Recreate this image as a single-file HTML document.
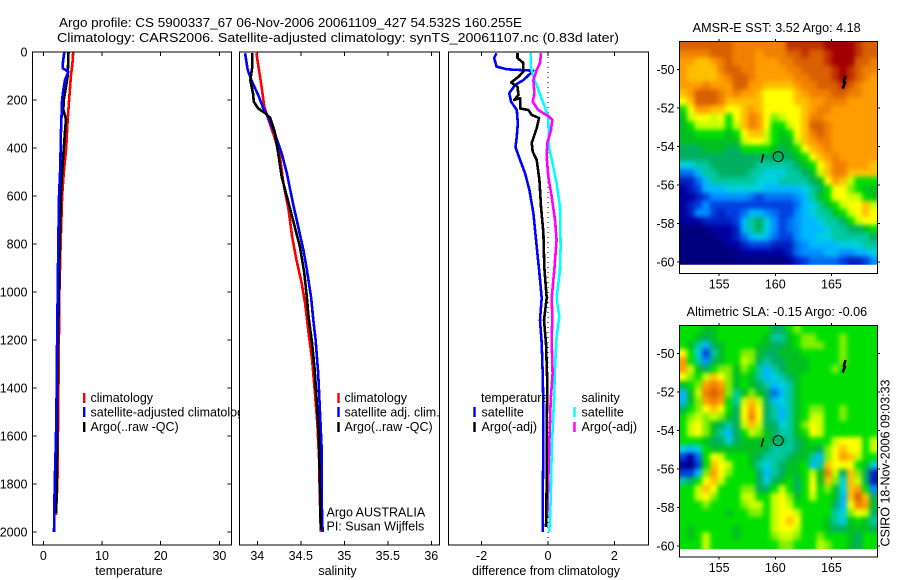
<!DOCTYPE html>
<html lang="en">
<head>
<meta charset="utf-8">
<title>Argo profile CS 5900337_67</title>
<style>
html,body{margin:0;padding:0;background:#fff;width:900px;height:580px;overflow:hidden}
svg{display:block}
text{font-family:"Liberation Sans",sans-serif;font-size:12.5px;fill:#000}
</style>
</head>
<body>
<svg id="chart" xmlns="http://www.w3.org/2000/svg" width="900" height="580" viewBox="0 0 900 580">
  <defs>
    <filter id="mapBlur" x="-5%" y="-5%" width="110%" height="110%" color-interpolation-filters="sRGB">
      <feGaussianBlur stdDeviation="2.4"/>
    </filter>
    <clipPath id="clipSst"><rect x="679.3" y="41.7" width="198" height="223"/></clipPath>
    <clipPath id="clipSla"><rect x="679.3" y="325.3" width="198" height="223.7"/></clipPath>
  </defs>
  <rect x="0" y="0" width="900" height="580" fill="#fff"/>
  <text x="59" y="27" textLength="463" lengthAdjust="spacingAndGlyphs" style="font-size:13.3px">Argo profile: CS 5900337_67 06-Nov-2006 20061109_427 54.532S 160.255E</text>
  <text x="57" y="42" textLength="562" lengthAdjust="spacingAndGlyphs" style="font-size:13.3px">Climatology: CARS2006. Satellite-adjusted climatology: synTS_20061107.nc (0.83d later)</text>

  <g id="p1"></g>
  <g id="p1legend">
    <rect x="83" y="393" width="2.4" height="10" fill="#f00"/>
    <rect x="83" y="407" width="2.4" height="10" fill="#00f"/>
    <rect x="83" y="422" width="2.4" height="10" fill="#000"/>
    <text x="90.5" y="402">climatology</text>
    <text x="90.5" y="416.5">satellite-adjusted climatology</text>
    <text x="90.5" y="431">Argo(..raw -QC)</text>
  </g>

  <g id="p2"></g>
  <g id="p2legend">
    <rect x="337.3" y="393" width="2.4" height="10" fill="#f00"/>
    <rect x="337.3" y="407" width="2.4" height="10" fill="#00f"/>
    <rect x="337.3" y="422" width="2.4" height="10" fill="#000"/>
    <text x="344.5" y="402">climatology</text>
    <text x="344.5" y="416.5">satellite adj. clim.</text>
    <text x="344.5" y="431">Argo(..raw -QC)</text>
    <text x="326.5" y="516.5">Argo AUSTRALIA</text>
    <text x="326.5" y="530.5">PI: Susan Wijffels</text>
  </g>

  <g id="p3"></g>
  <g id="p3legend">
    <text x="481" y="402">temperature</text>
    <rect x="473.3" y="407" width="2.4" height="10" fill="#00f"/>
    <rect x="473.3" y="422" width="2.4" height="10" fill="#000"/>
    <text x="481.5" y="416.5">satellite</text>
    <text x="481.5" y="431">Argo(-adj)</text>
    <text x="581.5" y="402">salinity</text>
    <rect x="573.3" y="407" width="2.4" height="10" fill="#0ff"/>
    <rect x="573.3" y="422" width="2.4" height="10" fill="#f0f"/>
    <text x="581.5" y="416.5">satellite</text>
    <text x="581.5" y="431">Argo(-adj)</text>
  </g>

  <text x="129" y="575" text-anchor="middle">temperature</text>
  <text x="337.5" y="575" text-anchor="middle">salinity</text>
  <text x="546" y="575" text-anchor="middle" textLength="148" lengthAdjust="spacingAndGlyphs">difference from climatology</text>

  <g id="m1"></g>
  <g id="m2"></g>
  <text x="692.7" y="32" textLength="168" lengthAdjust="spacingAndGlyphs">AMSR-E SST: 3.52 Argo: 4.18</text>
  <text x="686.7" y="316" textLength="180.5" lengthAdjust="spacingAndGlyphs">Altimetric SLA: -0.15 Argo: -0.06</text>
  <text transform="translate(889.5 546.5) rotate(-90)" textLength="167" lengthAdjust="spacingAndGlyphs">CSIRO 18-Nov-2006 09:03:33</text>
</svg>

<script>
// ---- profile data ----
const depthTicks = [0,200,400,600,800,1000,1200,1400,1600,1800,2000];
const tempTicks = [0,10,20,30];
const salTicks = [34,34.5,35,35.5,36];
const diffTicks = [-2,0,2];

const tempClimDepth = [0,50,100,200,300,400,500,600,800,1000,1200,1450,1800,1930];
const tempClimValue = [5.1,4.95,4.7,4.4,4.1,3.9,3.5,3.2,2.95,2.75,2.65,2.55,2.4,2.15];
const tempSatDepth = [0,40,68,82,117,158,200,340,478,603,800,1000,1200,1400,1600,1800,2000];
const tempSatValue = [3.6,3.35,3.3,4.27,3.7,3.4,3.2,3.0,2.9,2.67,2.55,2.45,2.35,2.28,2.17,1.95,1.83];
const tempArgoDepth = [0,100,200,240,280,300,400,500,600,800,1000,1200,1400,1800,1920];
const tempArgoValue = [4.3,4.15,3.5,3.4,3.87,3.8,3.5,3.2,3.0,2.8,2.65,2.5,2.4,2.3,2.2];

const salClimDepth = [5,75,145,228,283,358,436,547,658,769,867,964,1047,1172,1283,1408,1546,1700,1867,1999];
const salClimValue = [33.99,34.02,34.05,34.08,34.13,34.2,34.26,34.3,34.36,34.4,34.45,34.51,34.55,34.59,34.63,34.66,34.69,34.71,34.72,34.73];
const salSatDepth = [5,75,124,179,235,275,338,422,506,631,728,825,908,1025,1104,1200,1339,1492,1658,1867,1999];
const salSatValue = [33.86,33.89,33.94,34.01,34.07,34.13,34.2,34.28,34.34,34.41,34.47,34.53,34.57,34.62,34.64,34.67,34.7,34.72,34.74,34.74,34.75];
const salArgoDepth = [5,67,117,172,207,235,255,275,332,422,520,603,700,811,921,1025,1104,1214,1325,1492,1631,1811,1992];
const salArgoValue = [33.94,33.94,33.92,33.95,33.96,34.01,34.09,34.15,34.2,34.24,34.28,34.34,34.41,34.49,34.54,34.57,34.59,34.63,34.66,34.69,34.71,34.72,34.73];

const diffTempSatDepth = [5,25,61,72,78,117,137,172,207,242,297,353,397,450,506,575,672,811,921,1025,1117,1214,1339,1492,1631,1867,1999];
const diffTempSatValue = [-1.55,-1.62,-1.55,-1.24,-0.44,-0.74,-0.99,-1.17,-1.11,-0.94,-0.91,-0.94,-0.98,-0.84,-0.69,-0.56,-0.44,-0.34,-0.26,-0.19,-0.24,-0.19,-0.16,-0.14,-0.14,-0.16,-0.16];
const diffTempArgoDepth = [5,25,46,82,103,127,145,179,200,192,235,242,262,275,318,379,415,450,533,644,754,896,1025,1117,1214,1380,1589,1800,1979];
const diffTempArgoValue = [-0.92,-0.92,-0.74,-0.74,-0.89,-1.11,-0.92,-0.89,-1.02,-0.84,-0.84,-0.59,-0.49,-0.27,-0.34,-0.49,-0.46,-0.34,-0.26,-0.21,-0.14,-0.11,-0.04,-0.12,-0.06,-0.02,-0.04,-0.04,-0.06];
const diffSalSatDepth = [5,61,103,158,213,270,395,478,547,644,811,908,1025,1103,1186,1311,1450,1658,1867,1999];
const diffSalSatValue = [-0.52,-0.52,-0.44,-0.29,-0.14,0.01,0.03,0.16,0.26,0.36,0.38,0.36,0.26,0.34,0.26,0.21,0.18,0.11,0.08,0.04];
const diffSalArgoDepth = [5,46,75,117,172,207,242,267,283,325,379,436,520,603,700,783,908,1025,1103,1200,1339,1450,1631,1937];
const diffSalArgoValue = [-0.21,-0.24,-0.34,-0.44,-0.41,-0.46,-0.29,0.01,0.13,0.09,-0.02,-0.04,0.01,0.11,0.21,0.26,0.19,0.11,0.13,0.11,0.14,0.08,0.04,-0.02];

// ---- map data ----
const mapLonTicks = [155,160,165];
const mapLatTicks = [-50,-52,-54,-56,-58,-60];
const profileLon = [160.255];
const profileLat = [-54.532];
const nearTrackLon = [158.95,158.75];
const nearTrackLat = [-54.4,-54.85];
const farTrackLon = [166.25,166.1,166.2,166.0];
const farTrackLat = [-50.35,-50.65,-50.7,-51.0];

const levelColours = ['#00007f','#0000a0','#0020c0','#0040e0','#0070f0','#0090ff','#00b8ff','#00d0e0','#00c8a0','#00b060','#00c020','#00e000','#80f000','#c8ff00','#ffff00','#ffc000','#ff9c00','#f08000','#d86000','#c03000','#a00000'];

const sstLevels = [
[18,18,18,18,18,18,18,17,17,17,17,17,17,17,19,19,19,19,19,20,20,20,20,19,18,18],
[17,17,17,17,18,18,18,17,17,17,16,17,17,17,18,18,19,18,18,19,20,20,20,19,18,18],
[16,16,15,15,16,17,18,17,17,17,16,16,16,17,17,18,18,18,18,19,20,20,20,18,18,17],
[16,15,15,15,15,17,18,18,17,17,16,16,16,16,17,17,18,18,18,18,19,20,19,18,17,17],
[16,15,15,15,15,16,17,18,18,17,16,16,16,16,16,17,17,18,18,18,19,20,19,18,17,16],
[16,16,16,17,16,16,16,18,18,16,16,15,15,15,15,16,17,17,18,18,18,19,18,17,16,16],
[15,16,18,18,18,17,16,17,16,16,15,14,14,14,14,15,16,17,17,17,18,18,17,17,16,16],
[14,15,18,18,18,17,15,15,15,15,15,14,14,14,14,15,15,16,16,17,17,17,16,16,16,16],
[11,14,16,16,15,15,14,14,15,16,15,14,14,14,14,14,15,16,17,17,16,16,16,16,16,16],
[10,13,14,14,13,14,11,14,15,17,16,14,12,13,14,14,15,17,17,16,16,16,16,16,16,16],
[10,11,13,13,13,13,11,13,15,17,16,14,11,11,13,14,15,18,18,17,16,16,16,16,16,16],
[10,10,11,11,11,11,10,11,14,15,15,13,11,10,11,14,15,17,18,17,16,16,16,16,16,16],
[10,10,10,10,10,10,10,10,13,14,14,13,11,10,10,13,15,16,17,17,16,16,16,16,16,16],
[9,9,9,10,10,10,9,9,11,11,11,11,10,9,10,11,14,15,16,17,16,16,16,16,16,16],
[9,9,9,9,9,9,9,9,9,9,9,9,9,9,9,10,11,14,15,16,17,16,16,16,16,16],
[7,7,8,8,9,9,9,9,9,9,8,8,8,8,8,9,10,11,14,15,17,17,16,16,16,15],
[4,4,6,8,8,9,9,9,9,8,8,7,7,7,8,8,9,10,13,15,17,17,15,15,15,15],
[2,2,4,6,8,8,8,8,8,8,7,7,7,8,8,8,8,9,10,14,16,15,13,11,11,11],
[1,2,3,6,6,6,7,7,7,7,7,6,6,6,6,6,7,8,9,11,14,14,12,11,10,10],
[1,1,2,3,5,5,5,5,5,4,3,4,4,4,4,5,6,8,10,11,14,14,13,13,11,10],
[1,2,3,5,3,3,3,3,3,3,3,3,3,3,3,4,6,7,8,10,11,13,14,14,15,13],
[1,2,5,5,3,2,3,3,4,6,6,5,4,3,3,5,6,7,8,8,10,11,13,14,15,14],
[1,1,1,2,2,2,2,3,6,8,9,7,5,3,4,5,6,6,7,8,8,9,11,13,14,14],
[0,0,0,0,1,1,1,2,6,8,9,7,5,3,4,5,6,6,6,7,8,8,9,9,10,11],
[0,0,0,0,0,1,1,2,4,6,7,6,4,3,3,5,6,6,7,7,8,8,8,8,8,9],
[0,0,0,0,0,0,1,1,2,3,3,3,2,2,2,4,5,6,6,6,6,7,7,7,8,8],
[0,0,0,0,0,0,0,0,1,1,1,1,1,1,2,4,5,5,5,6,6,5,5,6,6,7],
[0,0,0,0,0,0,0,0,0,0,0,0,0,0,1,2,3,4,4,4,4,3,2,2,3,5]
];

const slaLevels = [
[11,11,11,10,10,11,11,11,11,11,11,11,9,9,11,12,11,11,11,11,11,11,11,11,11,11],
[11,11,10,9,10,11,11,11,11,11,11,10,8,8,10,11,12,12,11,11,11,12,11,11,11,11],
[11,10,8,6,9,10,11,11,11,11,10,10,9,9,10,11,12,12,12,11,11,12,11,11,11,11],
[14,11,7,3,8,10,11,11,12,12,10,9,9,10,10,10,11,11,11,11,11,12,11,11,11,11],
[16,11,8,5,9,10,11,11,13,12,9,8,9,9,10,10,10,11,11,11,11,12,11,11,11,11],
[16,13,10,9,11,12,12,10,12,11,8,6,8,9,10,10,10,11,11,11,12,11,11,11,11,11],
[14,12,11,13,15,14,12,10,11,10,8,6,7,8,9,10,11,11,11,11,11,11,11,11,11,11],
[10,11,12,16,17,16,12,10,11,10,9,8,6,7,8,10,11,11,11,11,11,11,11,11,11,11],
[6,10,13,17,18,17,12,8,10,12,10,9,4,6,8,10,11,11,11,11,11,11,11,11,11,11],
[6,10,12,16,17,16,11,8,13,15,13,9,6,7,8,10,11,11,11,11,11,11,11,11,11,11],
[9,11,12,14,15,14,11,9,14,16,14,9,8,6,8,10,11,12,12,11,11,12,11,11,11,11],
[11,12,13,12,13,12,10,9,14,17,14,9,8,6,8,10,11,13,13,11,11,12,11,11,11,11],
[11,13,14,12,10,9,8,9,13,15,13,9,9,7,8,10,12,14,13,11,11,11,11,11,11,11],
[11,13,14,12,10,8,6,9,11,13,12,10,9,8,8,10,11,14,13,11,11,11,11,11,11,11],
[11,11,11,10,9,9,7,9,10,10,10,10,9,9,8,9,10,11,11,11,13,14,14,14,11,13],
[7,6,7,11,10,10,10,10,10,10,10,9,8,8,8,9,10,10,9,12,14,15,14,14,11,13],
[3,1,4,11,14,13,11,11,11,10,9,8,8,8,9,10,10,8,6,12,14,16,15,13,11,11],
[1,0,3,11,15,14,13,11,11,10,8,7,8,9,10,10,11,6,8,15,14,14,14,11,10,7],
[3,3,6,12,16,14,12,11,11,11,9,6,8,9,10,10,11,13,10,17,13,9,15,12,9,2],
[8,9,11,14,15,13,11,11,11,11,9,7,9,10,11,9,11,14,10,15,12,7,15,13,9,2],
[11,11,13,15,14,11,11,11,12,12,9,9,11,13,11,9,11,14,11,12,10,7,15,16,11,5],
[11,11,13,14,12,11,11,11,13,13,11,11,13,14,12,10,11,13,11,11,10,6,15,18,15,9],
[11,11,11,12,11,11,11,11,12,13,13,11,13,14,13,11,11,11,11,11,9,6,14,17,16,10],
[11,11,11,11,11,11,10,11,11,12,12,11,13,14,14,13,11,11,11,11,8,7,12,14,13,9],
[11,11,11,11,11,11,11,11,11,11,11,11,13,14,15,14,11,11,11,10,8,7,10,11,10,8],
[11,10,11,11,11,11,11,10,11,11,11,11,13,14,14,13,11,11,11,10,9,9,10,10,10,9],
[11,10,11,13,11,11,11,10,11,11,11,11,12,13,13,12,11,11,12,11,11,11,10,9,11,11],
[11,11,11,13,11,11,11,11,11,11,11,11,11,12,12,11,11,11,13,12,11,11,10,9,11,11]
];

// ---- axis functions ----
const NS = 'http://www.w3.org/2000/svg';
const panelTop = 52, panelBottom = 545;
const yDepth = d => 52 + d * 0.24;
const xTemp = v => 43.3 + v * 5.87;
const xSal = v => 257.3 + (v - 34) * 87;
const xDiff = v => 548 + v * 33.2;
const xLon = lon => 775.3 + (lon - 160) * 11.23;
const latY = (lat, y50) => y50 + (-50 - lat) * 19.27;

function mk(parent, tag, attrs) {
  const el = document.createElementNS(NS, tag);
  for (const k in attrs) el.setAttribute(k, attrs[k]);
  parent.appendChild(el);
  return el;
}

function drawPanel(g, left, right, xFn, xTicks, xName, withDepth) {
  const bg = mk(g, 'rect', {x:left, y:panelTop, width:right-left, height:panelBottom-panelTop, fill:'#fff'});
  
  
  xTicks.forEach(v => {
    const x = xFn(v);
    const t1 = mk(g, 'line', {x1:x, x2:x, y1:panelTop, y2:panelTop+4, stroke:'#000', 'shape-rendering':'crispEdges'});
    
    
    const t2 = mk(g, 'line', {x1:x, x2:x, y1:panelBottom, y2:panelBottom-4, stroke:'#000', 'shape-rendering':'crispEdges'});
    
    
    const lab = mk(g, 'text', {x:x, y:560, 'text-anchor':'middle'});
    lab.textContent = String(v);
    
    
  });
  if (withDepth) {
    depthTicks.forEach(d => {
      const y = yDepth(d);
      const t1 = mk(g, 'line', {x1:left, x2:left+4, y1:y, y2:y, stroke:'#000', 'shape-rendering':'crispEdges'});
      
      
      const t2 = mk(g, 'line', {x1:right, x2:right-4, y1:y, y2:y, stroke:'#000', 'shape-rendering':'crispEdges'});
      
      
      const lab = mk(g, 'text', {x:27.5, y:y+4.5, 'text-anchor':'end'});
      lab.textContent = String(d);
      
      
    });
  }
}

function drawBox(g, left, right) {
  const box = mk(g, 'rect', {x:left, y:panelTop, width:right-left, height:panelBottom-panelTop, fill:'none', stroke:'#000', 'stroke-width':1, 'shape-rendering':'crispEdges'});
  
  
}

function drawProfile(g, depths, values, xFn, colour, name) {
  const pts = depths.map((d, i) => xFn(values[i]).toFixed(1) + ',' + yDepth(d).toFixed(1)).join(' ');
  const line = mk(g, 'polyline', {points:pts, fill:'none', stroke:colour, 'stroke-width':2.6, 'shape-rendering':'crispEdges', 'stroke-linejoin':'round'});
  
  
}

function drawMap(g, levels, y50, top, bottomAxis, lonStart, dataBottomLat, clipId) {
  const rows = levels.length;
  const cols = levels[0].length;
  const lonEnd = 169.08;
  const latTop = -50 + (y50 - top) / 19.27;
  const dLon = (lonEnd - lonStart) / cols;
  const dLat = (latTop - dataBottomLat) / rows;
  const pad = 10;
  const bg = mk(g, 'rect', {x:xLon(lonStart), y:top, width:xLon(lonEnd)-xLon(lonStart), height:bottomAxis-top, fill:'#fff'});
  
  
  const clipped = mk(g, 'g', {'clip-path':'url(#' + clipId + ')'});
  
  
  const smooth = mk(clipped, 'g', {filter:'url(#mapBlur)'});
  
  
  levels.forEach((row, r) => {
    row.forEach((v, c) => {
      let x0 = xLon(lonStart + c * dLon), x1 = xLon(lonStart + (c + 1) * dLon);
      let y0 = latY(latTop - r * dLat, y50), y1 = latY(latTop - (r + 1) * dLat, y50);
      if (c === 0) x0 -= pad;
      if (c === cols - 1) x1 += pad;
      if (r === 0) y0 -= pad;
      if (r === rows - 1) y1 += pad;
      const cell = mk(smooth, 'rect', {x:x0.toFixed(2), y:y0.toFixed(2), width:(x1-x0+0.4).toFixed(2), height:(y1-y0+0.4).toFixed(2), fill:levelColours[v], 'shape-rendering':'crispEdges'});
      
      
    });
  });
  const left = xLon(lonStart), right = xLon(lonEnd);
  const box = mk(g, 'rect', {x:left, y:top, width:right-left, height:bottomAxis-top, fill:'none', stroke:'#000', 'shape-rendering':'crispEdges'});
  
  
  mapLonTicks.forEach(lon => {
    const x = xLon(lon);
    const t1 = mk(g, 'line', {x1:x, x2:x, y1:top, y2:top-2.5, stroke:'#000', 'shape-rendering':'crispEdges'});
    
    
    const t2 = mk(g, 'line', {x1:x, x2:x, y1:bottomAxis, y2:bottomAxis+2.5, stroke:'#000', 'shape-rendering':'crispEdges'});
    
    
    const lab = mk(g, 'text', {x:x, y:bottomAxis+15, 'text-anchor':'middle'});
    lab.textContent = String(lon);
    
    
  });
  mapLatTicks.forEach(lat => {
    const y = latY(lat, y50);
    const t1 = mk(g, 'line', {x1:left, x2:left-2.5, y1:y, y2:y, stroke:'#000', 'shape-rendering':'crispEdges'});
    
    
    const t2 = mk(g, 'line', {x1:right, x2:right+2.5, y1:y, y2:y, stroke:'#000', 'shape-rendering':'crispEdges'});
    
    
    const lab = mk(g, 'text', {x:674.5, y:y+4.5, 'text-anchor':'end'});
    lab.textContent = String(lat);
    
    
  });
  const track1 = mk(g, 'polyline', {points:nearTrackLon.map((lon,i)=>xLon(lon).toFixed(1)+','+latY(nearTrackLat[i],y50).toFixed(1)).join(' '), fill:'none', stroke:'#000', 'stroke-width':1.6});
  
  
  const track2 = mk(g, 'polyline', {points:farTrackLon.map((lon,i)=>xLon(lon).toFixed(1)+','+latY(farTrackLat[i],y50).toFixed(1)).join(' '), fill:'none', stroke:'#000', 'stroke-width':2.6});
  
  
  const circ = mk(g, 'circle', {cx:xLon(profileLon[0]).toFixed(1), cy:latY(profileLat[0],y50).toFixed(1), r:5, fill:'none', stroke:'#000'});
  
  
}

// ---- draw ----
const p1 = document.getElementById('p1');
const p2 = document.getElementById('p2');
const p3 = document.getElementById('p3');

drawPanel(p1, 32.5, 231.5, xTemp, tempTicks, 'temperature', true);
drawProfile(p1, tempClimDepth, tempClimValue, xTemp, '#f00', 'temperature-climatology-line');
drawProfile(p1, tempArgoDepth, tempArgoValue, xTemp, '#000', 'temperature-argo-line');
drawProfile(p1, tempSatDepth, tempSatValue, xTemp, '#00f', 'temperature-satellite-line');
drawBox(p1, 32.5, 231.5);

// the legends sit above their own panel, but the salinity panel masks the temperature legend overflow
const svgRoot = document.getElementById('chart');
svgRoot.insertBefore(document.getElementById('p1legend'), p2);

drawPanel(p2, 239.5, 439.5, xSal, salTicks, 'salinity', false);
drawProfile(p2, salClimDepth, salClimValue, xSal, '#f00', 'salinity-climatology-line');
drawProfile(p2, salSatDepth, salSatValue, xSal, '#00f', 'salinity-satellite-line');
drawProfile(p2, salArgoDepth, salArgoValue, xSal, '#000', 'salinity-argo-line');
drawBox(p2, 239.5, 439.5);

drawPanel(p3, 448.5, 648.5, xDiff, diffTicks, 'difference', false);
const zero = mk(p3, 'line', {x1:xDiff(0), x2:xDiff(0), y1:panelTop, y2:panelBottom, stroke:'#000', 'stroke-dasharray':'1 4', 'shape-rendering':'crispEdges'});


drawProfile(p3, diffTempSatDepth, diffTempSatValue, xDiff, '#00f', 'difference-temperature-satellite-line');
drawProfile(p3, diffSalSatDepth, diffSalSatValue, xDiff, '#0ff', 'difference-salinity-satellite-line');
drawProfile(p3, diffSalArgoDepth, diffSalArgoValue, xDiff, '#f0f', 'difference-salinity-argo-line');
drawProfile(p3, diffTempArgoDepth, diffTempArgoValue, xDiff, '#000', 'difference-temperature-argo-line');
drawBox(p3, 448.5, 648.5);

drawMap(document.getElementById('m1'), sstLevels, 69.3, 41.7, 273.5, 151.46, -60.14, 'clipSst');
drawMap(document.getElementById('m2'), slaLevels, 353.3, 325.3, 557.2, 151.46, -60.14, 'clipSla');
</script>
</body>
</html>
